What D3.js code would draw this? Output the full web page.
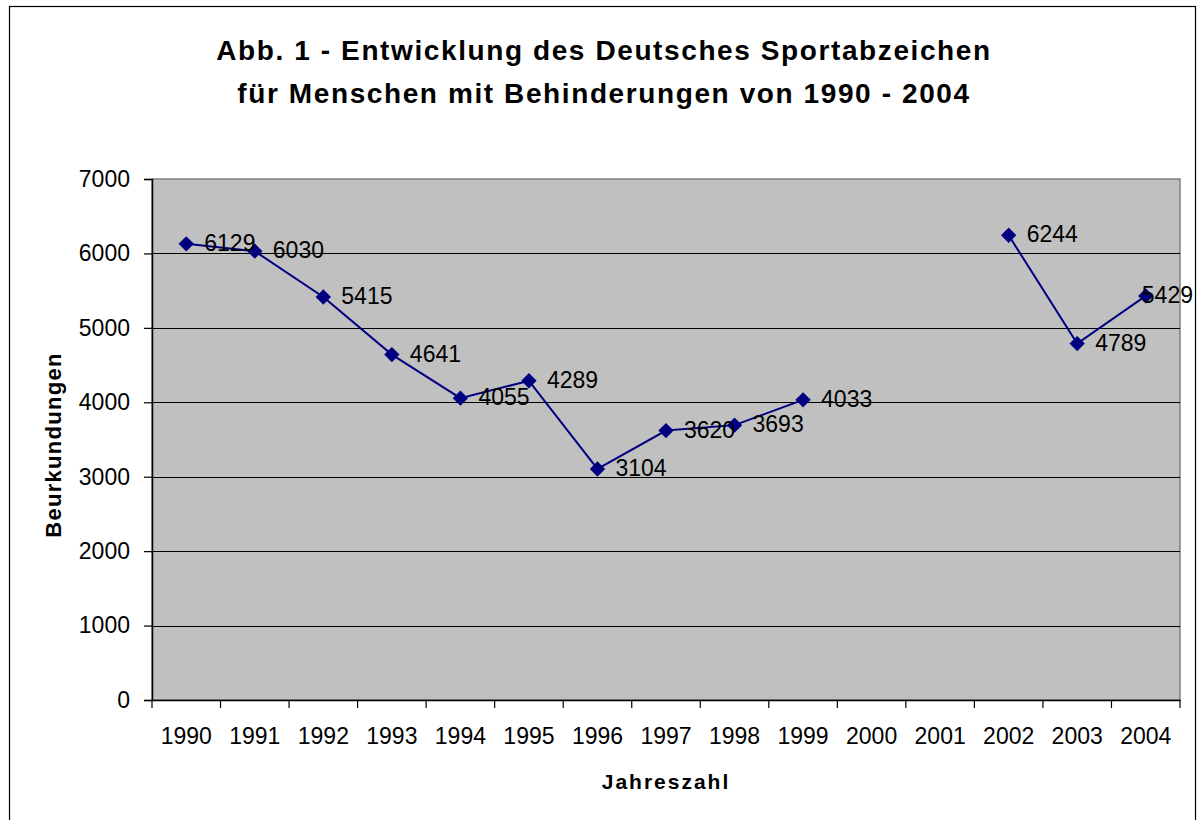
<!DOCTYPE html>
<html><head><meta charset="utf-8">
<script src="https://cdn.jsdelivr.net/npm/d3@7/dist/d3.min.js"></script>
<style>
html,body{margin:0;padding:0;background:#fff;}
svg{display:block;font-family:"Liberation Sans",Arial,sans-serif;}
</style></head>
<body>
<svg id="chart" width="1198" height="820"></svg>
<script>
const years = ["1990","1991","1992","1993","1994","1995","1996","1997","1998","1999","2000","2001","2002","2003","2004"];
const values = [6129,6030,5415,4641,4055,4289,3104,3620,3693,4033,null,null,6244,4789,5429];
const yTicks = [0,1000,2000,3000,4000,5000,6000,7000];
const titleLines = ["Abb. 1 - Entwicklung des Deutsches Sportabzeichen","für Menschen mit Behinderungen von 1990 - 2004"];
const xTitle = "Jahreszahl";
const yTitle = "Beurkundungen";

const svg = d3.select("#chart");
const L = 152, R = 1180, T = 179, B = 700;

// outer frame
svg.append("rect").attr("x",9.5).attr("y",6.5).attr("width",1186).attr("height",830)
  .attr("fill","#fff").attr("stroke","#000").attr("stroke-width",1.2);

const x = d3.scaleBand().domain(years).range([L,R]);
const y = d3.scaleLinear().domain([0,7000]).range([B,T]);

// plot area
svg.append("rect").attr("x",L).attr("y",T).attr("width",R-L).attr("height",B-T)
  .attr("fill","#C0C0C0").attr("stroke","#808080").attr("stroke-width",1.5);

// gridlines
svg.append("g").selectAll("line").data(yTicks.filter(d=>d>0&&d<7000)).join("line")
  .attr("x1",L).attr("x2",R).attr("y1",d=>Math.round(y(d))+0.5).attr("y2",d=>Math.round(y(d))+0.5)
  .attr("stroke","#000").attr("stroke-width",1);

// y axis
const yAxis = svg.append("g").attr("transform",`translate(${L},0)`)
  .call(d3.axisLeft(y).tickValues(yTicks).tickSize(8).tickPadding(14).tickFormat(d3.format("d")));
yAxis.select(".domain").attr("stroke","#000").attr("stroke-width",1.5);
yAxis.selectAll(".tick line").attr("stroke","#000").attr("stroke-width",1.2);
yAxis.selectAll("text").attr("font-size",23).attr("fill","#000").attr("font-family","Liberation Sans, Arial, sans-serif");

// x axis
const xAxis = svg.append("g").attr("transform",`translate(0,${B})`)
  .call(d3.axisBottom(x).tickSize(0).tickPadding(28));
xAxis.select(".domain").attr("stroke","#000").attr("stroke-width",1.5);
xAxis.selectAll("text").attr("font-size",23).attr("fill","#000").attr("font-family","Liberation Sans, Arial, sans-serif");
// ticks at band boundaries
const bounds = years.map(d=>x(d)).concat([x(years[years.length-1])+x.bandwidth()]);
svg.append("g").selectAll("line").data(bounds).join("line")
  .attr("x1",d=>d).attr("x2",d=>d).attr("y1",B).attr("y2",B+8)
  .attr("stroke","#000").attr("stroke-width",1.2);

// line
const cx = d=>x(d.year)+x.bandwidth()/2;
const data = years.map((yr,i)=>({year:yr,value:values[i]}));
const line = d3.line().defined(d=>d.value!=null).x(cx).y(d=>y(d.value));
svg.append("path").datum(data).attr("d",line).attr("fill","none")
  .attr("stroke","#000080").attr("stroke-width",2);

// markers
const pts = data.filter(d=>d.value!=null);
svg.append("g").selectAll("path").data(pts).join("path")
  .attr("d",d3.symbol().type(d3.symbolDiamond2).size(150))
  .attr("transform",d=>`translate(${cx(d)},${y(d.value)})`)
  .attr("fill","#000080");

// labels
const overflow = d=>cx(d)+18+52>1196;
svg.append("g").selectAll("text").data(pts).join("text")
  .attr("x",d=>overflow(d)?1193:cx(d)+18)
  .attr("text-anchor",d=>overflow(d)?"end":"start")
  .attr("y",d=>y(d.value)+7)
  .attr("font-size",23).attr("fill","#000")
  .text(d=>d.value);

// title
svg.append("g").selectAll("text").data(titleLines).join("text")
  .attr("x",604).attr("y",(d,i)=>60+i*43).attr("text-anchor","middle")
  .attr("font-size",28).attr("font-weight","bold").attr("letter-spacing",1.6).attr("fill","#000")
  .text(d=>d);

// axis titles
svg.append("text").attr("x",(L+R)/2).attr("y",789).attr("text-anchor","middle")
  .attr("font-size",21).attr("font-weight","bold").attr("letter-spacing",2).attr("fill","#000")
  .text(xTitle);
svg.append("text").attr("transform",`translate(61,445) rotate(-90)`).attr("text-anchor","middle")
  .attr("font-size",22).attr("font-weight","bold").attr("letter-spacing",1.3).attr("fill","#000")
  .text(yTitle);
</script>
</body></html>
